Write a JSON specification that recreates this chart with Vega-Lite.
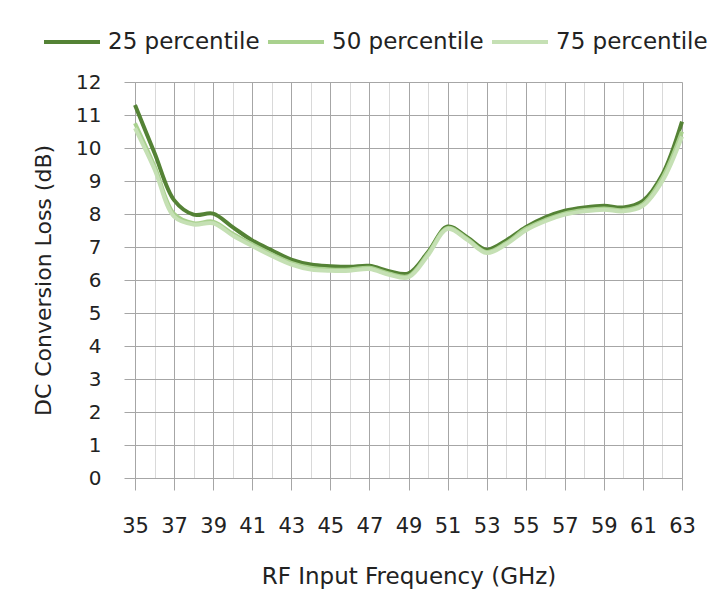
{
  "$schema": "https://vega.github.io/schema/vega-lite/v6.json",
  "width": 547,
  "height": 396,
  "padding": {"left": 32, "top": 12, "right": 33, "bottom": 5},
  "background": "white",
  "config": {"font": "DejaVu Sans", "view": {"stroke": null}},
  "data": {
    "values": [
      {"freq": 35, "series": "25 percentile", "loss": 11.3},
      {"freq": 36, "series": "25 percentile", "loss": 9.85},
      {"freq": 37, "series": "25 percentile", "loss": 8.42},
      {"freq": 38, "series": "25 percentile", "loss": 7.98},
      {"freq": 39, "series": "25 percentile", "loss": 8.01},
      {"freq": 40, "series": "25 percentile", "loss": 7.6},
      {"freq": 41, "series": "25 percentile", "loss": 7.2},
      {"freq": 42, "series": "25 percentile", "loss": 6.9},
      {"freq": 43, "series": "25 percentile", "loss": 6.62},
      {"freq": 44, "series": "25 percentile", "loss": 6.47},
      {"freq": 45, "series": "25 percentile", "loss": 6.42},
      {"freq": 46, "series": "25 percentile", "loss": 6.4},
      {"freq": 47, "series": "25 percentile", "loss": 6.43},
      {"freq": 48, "series": "25 percentile", "loss": 6.27},
      {"freq": 49, "series": "25 percentile", "loss": 6.2},
      {"freq": 50, "series": "25 percentile", "loss": 6.85},
      {"freq": 51, "series": "25 percentile", "loss": 7.62},
      {"freq": 52, "series": "25 percentile", "loss": 7.3},
      {"freq": 53, "series": "25 percentile", "loss": 6.92},
      {"freq": 54, "series": "25 percentile", "loss": 7.2},
      {"freq": 55, "series": "25 percentile", "loss": 7.6},
      {"freq": 56, "series": "25 percentile", "loss": 7.9},
      {"freq": 57, "series": "25 percentile", "loss": 8.1},
      {"freq": 58, "series": "25 percentile", "loss": 8.2},
      {"freq": 59, "series": "25 percentile", "loss": 8.25},
      {"freq": 60, "series": "25 percentile", "loss": 8.2},
      {"freq": 61, "series": "25 percentile", "loss": 8.4},
      {"freq": 62, "series": "25 percentile", "loss": 9.2},
      {"freq": 63, "series": "25 percentile", "loss": 10.8},
      {"freq": 35, "series": "50 percentile", "loss": 10.75},
      {"freq": 36, "series": "50 percentile", "loss": 9.45},
      {"freq": 37, "series": "50 percentile", "loss": 8.0},
      {"freq": 38, "series": "50 percentile", "loss": 7.72},
      {"freq": 39, "series": "50 percentile", "loss": 7.77},
      {"freq": 40, "series": "50 percentile", "loss": 7.4},
      {"freq": 41, "series": "50 percentile", "loss": 7.08},
      {"freq": 42, "series": "50 percentile", "loss": 6.78},
      {"freq": 43, "series": "50 percentile", "loss": 6.52},
      {"freq": 44, "series": "50 percentile", "loss": 6.37},
      {"freq": 45, "series": "50 percentile", "loss": 6.32},
      {"freq": 46, "series": "50 percentile", "loss": 6.32},
      {"freq": 47, "series": "50 percentile", "loss": 6.37},
      {"freq": 48, "series": "50 percentile", "loss": 6.2},
      {"freq": 49, "series": "50 percentile", "loss": 6.12},
      {"freq": 50, "series": "50 percentile", "loss": 6.8},
      {"freq": 51, "series": "50 percentile", "loss": 7.58},
      {"freq": 52, "series": "50 percentile", "loss": 7.25},
      {"freq": 53, "series": "50 percentile", "loss": 6.85},
      {"freq": 54, "series": "50 percentile", "loss": 7.12},
      {"freq": 55, "series": "50 percentile", "loss": 7.55},
      {"freq": 56, "series": "50 percentile", "loss": 7.82},
      {"freq": 57, "series": "50 percentile", "loss": 8.02},
      {"freq": 58, "series": "50 percentile", "loss": 8.12},
      {"freq": 59, "series": "50 percentile", "loss": 8.17},
      {"freq": 60, "series": "50 percentile", "loss": 8.12},
      {"freq": 61, "series": "50 percentile", "loss": 8.3},
      {"freq": 62, "series": "50 percentile", "loss": 9.1},
      {"freq": 63, "series": "50 percentile", "loss": 10.5},
      {"freq": 35, "series": "75 percentile", "loss": 10.6},
      {"freq": 36, "series": "75 percentile", "loss": 9.35},
      {"freq": 37, "series": "75 percentile", "loss": 7.92},
      {"freq": 38, "series": "75 percentile", "loss": 7.68},
      {"freq": 39, "series": "75 percentile", "loss": 7.72},
      {"freq": 40, "series": "75 percentile", "loss": 7.35},
      {"freq": 41, "series": "75 percentile", "loss": 7.03},
      {"freq": 42, "series": "75 percentile", "loss": 6.73},
      {"freq": 43, "series": "75 percentile", "loss": 6.47},
      {"freq": 44, "series": "75 percentile", "loss": 6.32},
      {"freq": 45, "series": "75 percentile", "loss": 6.28},
      {"freq": 46, "series": "75 percentile", "loss": 6.28},
      {"freq": 47, "series": "75 percentile", "loss": 6.33},
      {"freq": 48, "series": "75 percentile", "loss": 6.16},
      {"freq": 49, "series": "75 percentile", "loss": 6.08},
      {"freq": 50, "series": "75 percentile", "loss": 6.75},
      {"freq": 51, "series": "75 percentile", "loss": 7.55},
      {"freq": 52, "series": "75 percentile", "loss": 7.22},
      {"freq": 53, "series": "75 percentile", "loss": 6.82},
      {"freq": 54, "series": "75 percentile", "loss": 7.08},
      {"freq": 55, "series": "75 percentile", "loss": 7.5},
      {"freq": 56, "series": "75 percentile", "loss": 7.78},
      {"freq": 57, "series": "75 percentile", "loss": 7.98},
      {"freq": 58, "series": "75 percentile", "loss": 8.08},
      {"freq": 59, "series": "75 percentile", "loss": 8.13},
      {"freq": 60, "series": "75 percentile", "loss": 8.08},
      {"freq": 61, "series": "75 percentile", "loss": 8.25},
      {"freq": 62, "series": "75 percentile", "loss": 9.0},
      {"freq": 63, "series": "75 percentile", "loss": 10.35}
    ]
  },
  "layer": [
    {
      "mark": {"type": "rule", "opacity": 0},
      "encoding": {
        "x": {
          "field": "freq",
          "type": "quantitative",
          "scale": {"domain": [35, 63], "nice": false, "zero": false},
          "axis": {
            "orient": "bottom",
            "values": [35,36,37,38,39,40,41,42,43,44,45,46,47,48,49,50,51,52,53,54,55,56,57,58,59,60,61,62,63],
            "grid": true,
            "gridColor": "#d9d9d9",
            "gridWidth": 1,
            "labels": false,
            "ticks": false,
            "domain": false,
            "title": null
          }
        }
      }
    },
    {
      "mark": {"type": "line", "interpolate": "catmull-rom", "strokeWidth": 4},
      "encoding": {
        "x": {
          "field": "freq",
          "type": "quantitative",
          "scale": {"domain": [35, 63], "nice": false, "zero": false},
          "axis": {
            "orient": "bottom",
            "values": [35,37,39,41,43,45,47,49,51,53,55,57,59,61,63],
            "grid": true,
            "gridColor": "#a6a6a6",
            "gridWidth": 1,
            "domainColor": "#a6a6a6",
            "tickColor": "#a6a6a6",
            "tickSize": 12,
            "labelFlush": false,
            "labelOverlap": false,
            "labelPadding": 25,
            "labelFontSize": 21,
            "labelColor": "#222222",
            "title": "RF Input Frequency (GHz)",
            "titleFontSize": 23,
            "titleFontWeight": "normal",
            "titleColor": "#222222",
            "titlePadding": 29
          }
        },
        "y": {
          "field": "loss",
          "type": "quantitative",
          "scale": {"domain": [0, 12], "nice": false},
          "axis": {
            "values": [0,1,2,3,4,5,6,7,8,9,10,11,12],
            "grid": true,
            "gridColor": "#a6a6a6",
            "gridWidth": 1,
            "domainColor": "#a6a6a6",
            "tickColor": "#a6a6a6",
            "tickSize": 11,
            "labelPadding": 23,
            "labelFontSize": 20,
            "labelColor": "#222222",
            "title": "DC Conversion Loss (dB)",
            "titleFontSize": 22,
            "titleFontWeight": "normal",
            "titleColor": "#222222",
            "titlePadding": 20
          }
        },
        "color": {
          "field": "series",
          "type": "nominal",
          "scale": {
            "domain": ["25 percentile", "50 percentile", "75 percentile"],
            "range": ["#548235", "#a9d18e", "#c5e0b4"]
          },
          "legend": {
            "orient": "none",
            "legendX": -93,
            "legendY": -70,
            "direction": "horizontal",
            "title": null,
            "symbolType": "stroke",
            "symbolStrokeWidth": 4,
            "symbolSize": 3136,
            "labelFontSize": 23,
            "labelColor": "#222222",
            "labelOffset": 6,
            "columnPadding": 0,
            "labelLimit": 300
          }
        }
      }
    }
  ],
  "resolve": {"axis": {"x": "independent"}}
}
